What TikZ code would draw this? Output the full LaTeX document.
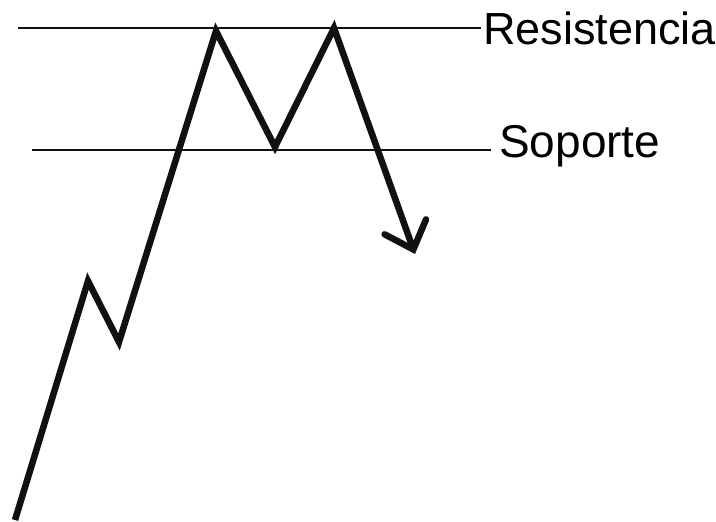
\documentclass[tikz,border=0pt]{standalone}
\usepackage{fontspec}
\setmainfont{Liberation Sans}
\usepackage{tikz}
\usepackage{xcolor}
\usetikzlibrary{arrows.meta, positioning}
\definecolor{Chart_Ink}{HTML}{111111}

\begin{document}
\begin{tikzpicture}[x=1pt, y=-1pt]
    \useasboundingbox (0,0) rectangle (716,522);
    % levels
    \coordinate (resA) at (18,28);
    \coordinate (resB) at (481,28);
    \coordinate (supA) at (32,150);
    \coordinate (supB) at (491,150);
    \draw[line width=1.6pt, Chart_Ink] (resA) -- (resB);
    \draw[line width=1.6pt, Chart_Ink] (supA) -- (supB);
    \node[anchor=base west, inner sep=0pt, font=\fontsize{45}{54}\selectfont] (resLabel) at (483,45) {Resistencia};
    \node[anchor=base west, inner sep=0pt, font=\fontsize{46}{54}\selectfont] (supLabel) at (499,157) {Soporte};
    % price path
    \coordinate (p0) at (15,520);
    \coordinate (p1) at (88,281);
    \coordinate (p2) at (119,342);
    \coordinate (p3) at (216,31);
    \coordinate (p4) at (275,147);
    \coordinate (p5) at (334,28);
    \coordinate (p6) at (415,254);
    \draw[line width=6.5pt, Chart_Ink, line join=miter, -{Straight Barb[length=24pt, width=44pt, line cap=round]}]
        (p0) -- (p1) -- (p2) -- (p3) -- (p4) -- (p5) -- (p6);
\end{tikzpicture}
\end{document}
